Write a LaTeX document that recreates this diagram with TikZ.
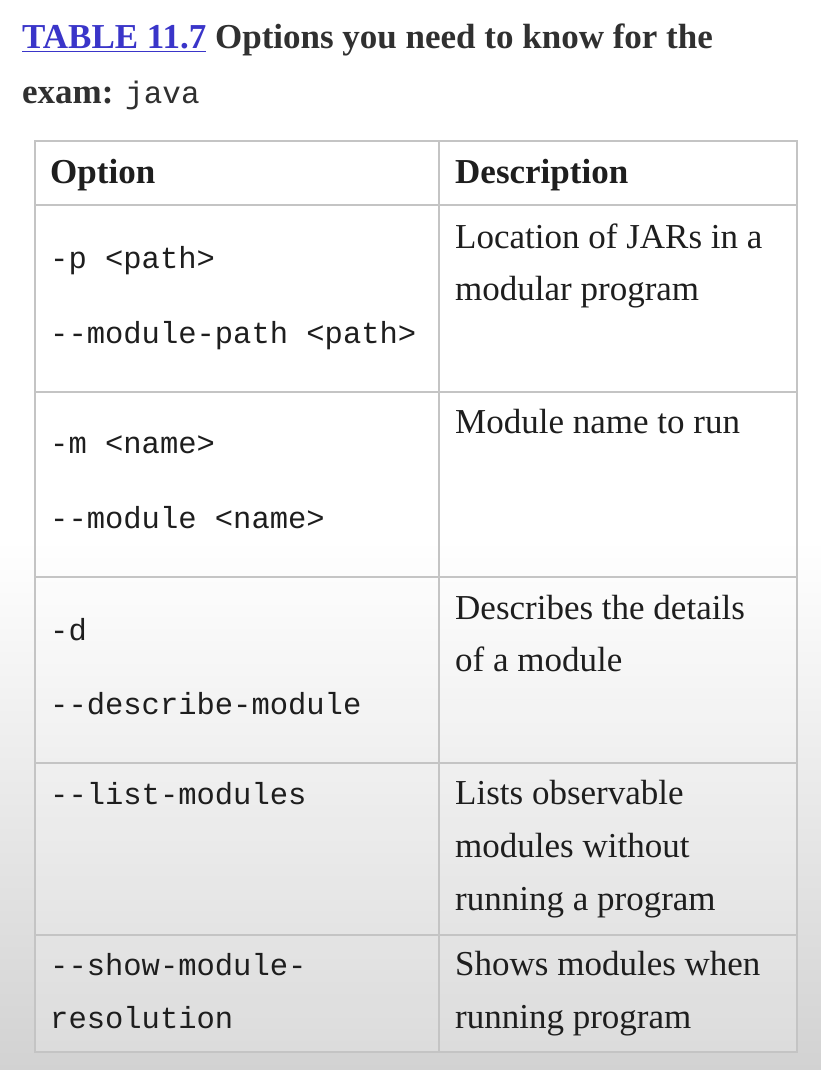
\documentclass[tikz,border=0pt]{standalone}
\usepackage{fontspec}
\usepackage{tikz}
\usepackage{xcolor}
\setmainfont{Liberation Serif}
\setmonofont{Liberation Mono}
\usetikzlibrary{
    positioning,
    shapes
}
\definecolor{linkblue}{HTML}{3A35C9}
\definecolor{titlegray}{HTML}{303030}
\definecolor{textdark}{HTML}{1E1E1E}
\definecolor{rulegray}{HTML}{C4C4C4}
\definecolor{shadegray}{HTML}{D2D2D2}
\tikzset{
    opt/.style={anchor=base west, inner sep=0pt, text=textdark, font=\fontsize{30.5}{36}\ttfamily},
    desc/.style={anchor=base west, inner sep=0pt, text=textdark, font=\fontsize{35}{42}\selectfont},
    head/.style={anchor=base west, inner sep=0pt, text=textdark, font=\fontsize{35}{42}\bfseries},
    grid/.style={draw=rulegray, line width=1.6pt}
}

\begin{document}
\begin{tikzpicture}[x=1pt, y=-1pt]
            \useasboundingbox (0,0) rectangle (821,1070);
            \fill[white] (0,0) rectangle (821,540);
            \shade[top color=white, bottom color=shadegray] (0,540) rectangle (821,1070);
            \fill[white, fill opacity=0.2] (35,141) rectangle (797,1052);
            
            \node[anchor=base west, inner sep=0pt, font=\fontsize{35}{42}\bfseries] (title) at (22,49)
                {\textcolor{linkblue}{\underline{TABLE 11.7}} \textcolor{titlegray}{Options you need to know for the}};
            \node[anchor=base west, inner sep=0pt, font=\fontsize{35}{42}\bfseries, text=titlegray] (title2) at (22,104)
                {exam: {\fontsize{31}{36}\mdseries\ttfamily java}};
            
            \draw[grid] (35,141) rectangle (797,1052);
            \draw[grid] (439,141) -- (439,1052);
            \draw[grid] (35,205) -- (797,205);
            \draw[grid] (35,392) -- (797,392);
            \draw[grid] (35,577) -- (797,577);
            \draw[grid] (35,763) -- (797,763);
            \draw[grid] (35,935) -- (797,935);
            
            \node[head] (hopt) at (50,183) {Option};
            \node[head] (hdesc) at (455,183) {Description};
            
            \node[opt] (p) at (50,268) {-p <path>};
            \node[opt] (pl) at (50,343) {--module-path <path>};
            \node[desc] (pd1) at (455,248) {Location of JARs in a};
            \node[desc] (pd2) at (455,300) {modular program};
            
            \node[opt] (m) at (50,453) {-m <name>};
            \node[opt] (ml) at (50,528) {--module <name>};
            \node[desc] (md) at (455,433) {Module name to run};
            
            \node[opt] (d) at (50,640) {-d};
            \node[opt] (dl) at (50,714) {--describe-module};
            \node[desc] (dd1) at (455,619) {Describes the details};
            \node[desc] (dd2) at (455,671) {of a module};
            
            \node[opt] (list) at (50,804) {--list-modules};
            \node[desc] (ld1) at (455,804) {Lists observable};
            \node[desc] (ld2) at (455,857) {modules without};
            \node[desc] (ld3) at (455,910) {running a program};
            
            \node[opt] (show1) at (50,975) {--show-module-};
            \node[opt] (show2) at (50,1028) {resolution};
            \node[desc] (sd1) at (455,975) {Shows modules when};
            \node[desc] (sd2) at (455,1028) {running program};
\end{tikzpicture}
\end{document}
